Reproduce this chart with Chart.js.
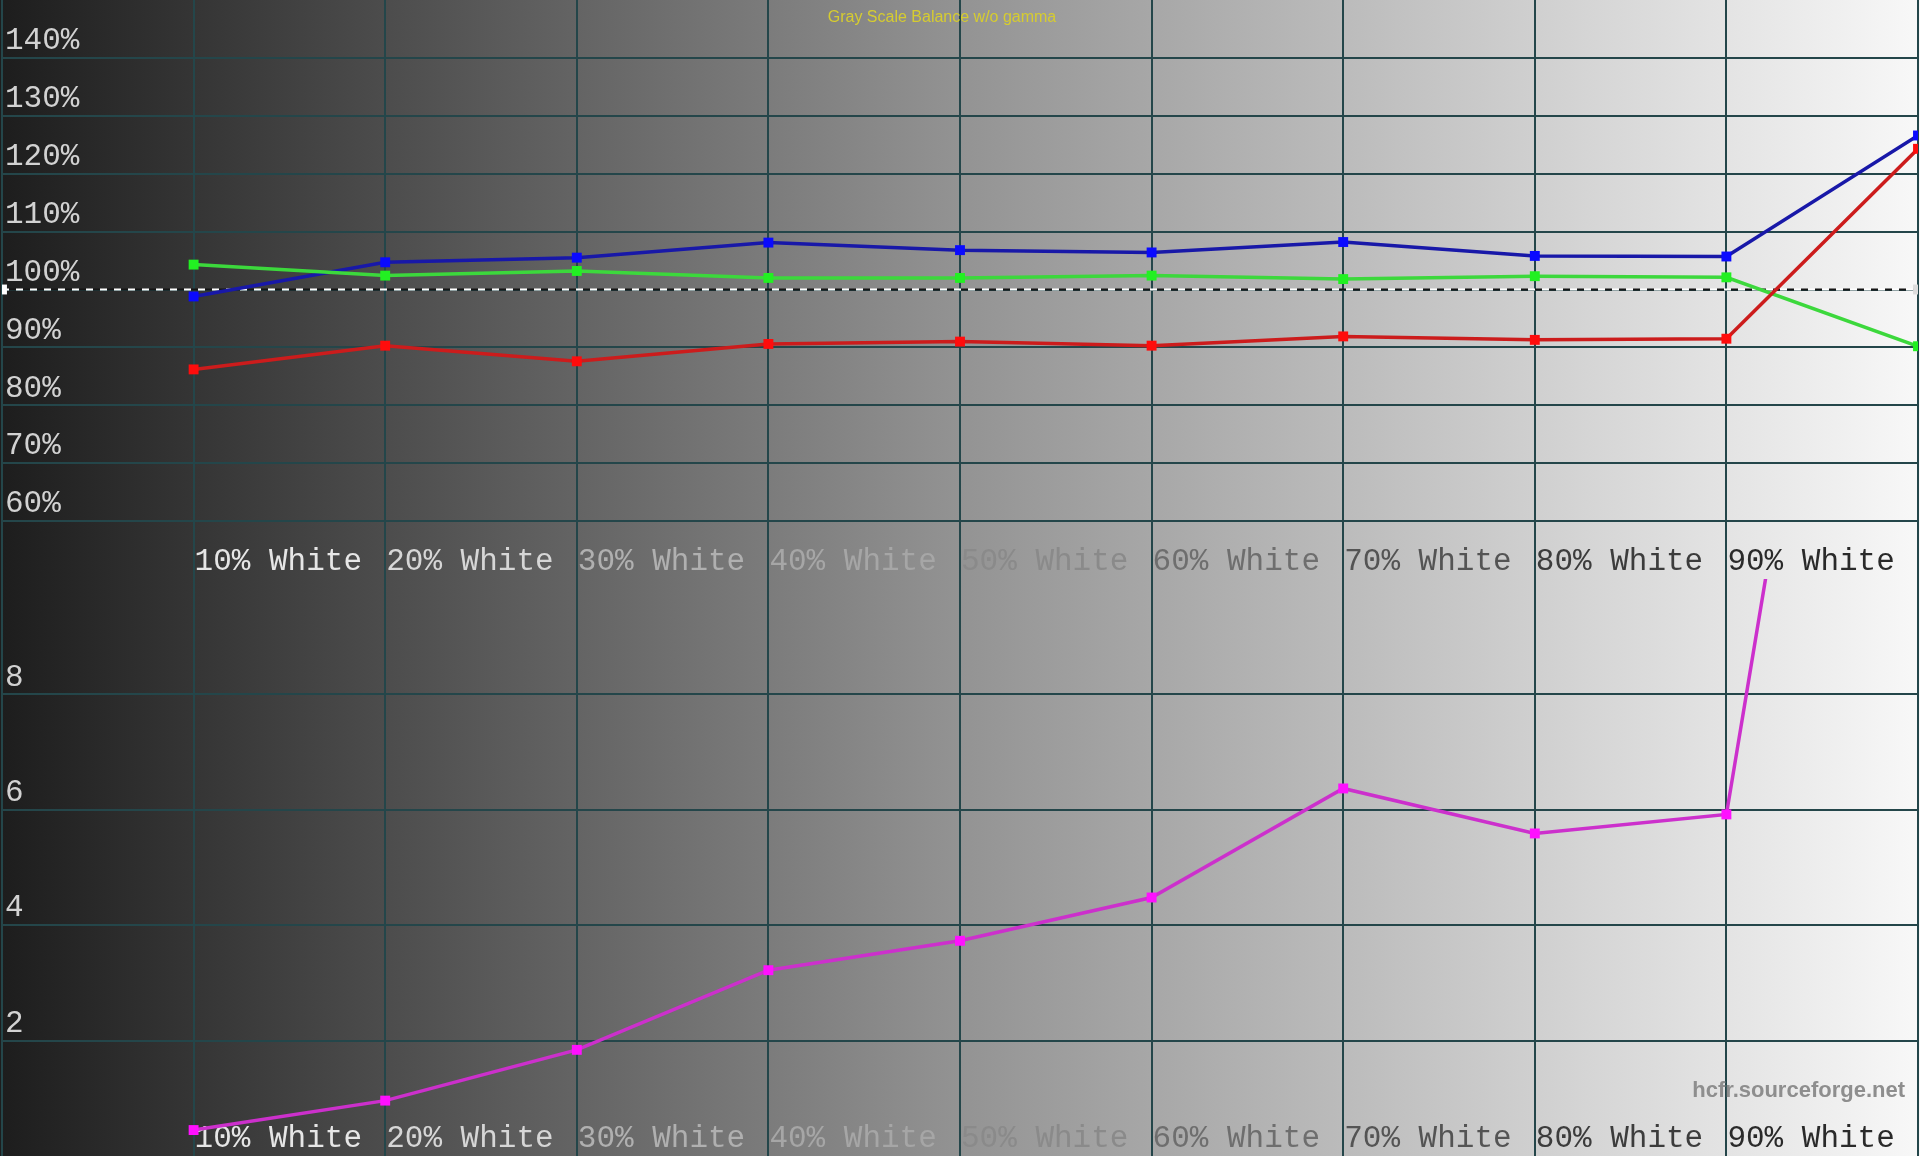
<!DOCTYPE html>
<html>
<head>
<meta charset="utf-8">
<title>Gray Scale Balance w/o gamma</title>
<script src="https://cdn.jsdelivr.net/npm/chart.js@4.4.1/dist/chart.umd.min.js"></script>
<style>
  html, body { margin: 0; padding: 0; width: 1920px; height: 1156px; overflow: hidden; }
  body {
    position: relative;
    background: linear-gradient(to right, #1d1d1d 0%, #939393 50%, #f8f8f8 100%);
    font-family: 'Liberation Sans', Arial, sans-serif;
  }
  canvas { position: absolute; left: 0; }
  #rgb { top: 0; }
  #de { top: 579px; }
  #title {
    position: absolute; top: 8px; left: 0; width: 1884px;
    text-align: center; color: #d6cc30; font-size: 16px;
  }
  #credit {
    position: absolute; top: 1077px; right: 15px;
    color: #8e8e8e; font-weight: bold; font-size: 22px;
  }
</style>
</head>
<body>
<canvas id="rgb" width="1920" height="579"></canvas>
<canvas id="de" width="1920" height="577"></canvas>
<div id="title">Gray Scale Balance w/o gamma</div>
<div id="credit">hcfr.sourceforge.net</div>
<script>
// measured grey levels (% white)
const levels = [10, 20, 30, 40, 50, 60, 70, 80, 90, 100];
const xTickLabels = ['10% White', '20% White', '30% White', '40% White', '50% White',
                     '60% White', '70% White', '80% White', '90% White'];
const xTickColors = ['#e6e6e6', '#d6d6d6', '#b0b0b0', '#a6a6a6', '#8a8a8a',
                     '#6e6e6e', '#545454', '#3c3c3c', '#2a2a2a'];

// RGB balance, %
const redBalance   = [86.2, 90.3, 87.6, 90.6, 91.0, 90.3, 91.9, 91.3, 91.5, 124.3];
const greenBalance = [104.3, 102.4, 103.2, 102.0, 102.0, 102.4, 101.8, 102.3, 102.1, 90.2];
const blueBalance  = [98.8, 104.7, 105.5, 108.1, 106.8, 106.4, 108.2, 105.8, 105.7, 126.6];
const reference = 100;

// delta E
const deltaE = [0.45, 0.96, 1.84, 3.22, 3.73, 4.48, 6.37, 5.59, 5.92, 25.9];

const rgbTickValues = [60, 70, 80, 90, 100, 110, 120, 130, 140];
const rgbTickLabels = ['60%', '70%', '80%', '90%', '100%', '110%', '120%', '130%', '140%'];
const deTickValues = [2, 4, 6, 8];
const deTickLabels = ['2', '4', '6', '8'];

const GRID = '#24464a';
const MONO = "'Courier New', 'Liberation Mono', monospace";

function xScale() {
  return {
    type: 'linear', min: 0, max: 100,
    border: { display: false },
    grid: { color: GRID, lineWidth: 2, drawTicks: false },
    ticks: {
      stepSize: 10, autoSkip: false, maxRotation: 0, minRotation: 0,
      mirror: true, align: 'start', labelOffset: 1, padding: 2,
      font: { family: MONO, size: 31, lineHeight: 1 },
      color: c => xTickColors[levels.indexOf(Math.round(c.tick.value))] || 'transparent',
      callback: v => xTickLabels[levels.indexOf(Math.round(v))] || ''
    },
    afterFit: s => { s.height = 0; s.paddingLeft = 0; s.paddingRight = 0; }
  };
}

function yScale(min, max, step, values, labels) {
  return {
    type: 'linear', min: min, max: max,
    border: { display: false },
    grid: { color: GRID, lineWidth: 2, drawTicks: false },
    ticks: {
      stepSize: step, autoSkip: false, mirror: true, padding: 3, labelOffset: -17,
      color: '#d2d2d2',
      font: { family: MONO, size: 31, lineHeight: 1 },
      callback: v => {
        const i = values.indexOf(Math.round(v));
        return i < 0 ? null : labels[i];
      }
    },
    afterFit: s => { s.width = 0; s.paddingTop = 0; s.paddingBottom = 0; }
  };
}

function series(values, line, marker) {
  return {
    data: levels.map((x, i) => ({ x: x, y: values[i] })),
    borderColor: line, borderWidth: 3.5, tension: 0,
    pointStyle: 'rect', pointRadius: 7, pointBorderWidth: 0,
    pointBackgroundColor: marker
  };
}

const common = {
  responsive: false, animation: false, devicePixelRatio: 1,
  layout: { autoPadding: false, padding: { left: 2, right: 2, top: 0, bottom: 0 } },
  plugins: { legend: { display: false }, tooltip: { enabled: false }, title: { display: false } },
  events: []
};

new Chart(document.getElementById('rgb'), {
  type: 'line',
  data: {
    datasets: [
      series(redBalance, '#cc1c1c', '#ff0c0c'),
      series(greenBalance, '#3cd83c', '#22f022'),
      series(blueBalance, '#1818a8', '#0a0aff'),
      {
        data: [{ x: 0, y: reference }, { x: 100, y: reference }],
        borderColor: '#ffffff', borderWidth: 2, borderDash: [7, 7],
        pointStyle: 'rect', pointRadius: 7, pointBorderWidth: 0,
        pointBackgroundColor: ['#ffffff', '#dcdcdc'], order: 1
      },
      {
        data: [{ x: 0, y: reference }, { x: 100, y: reference }],
        borderColor: '#151515', borderWidth: 2, borderDash: [7, 7], borderDashOffset: 7,
        pointRadius: 0, order: 1
      }
    ]
  },
  options: Object.assign({}, common, {
    scales: {
      x: xScale(),
      y: yScale(50, 150, 10, rgbTickValues, rgbTickLabels)
    }
  })
});

new Chart(document.getElementById('de'), {
  type: 'line',
  data: {
    datasets: [series(deltaE, '#cc30cc', '#ff10ff')]
  },
  options: Object.assign({}, common, {
    scales: {
      x: xScale(),
      y: yScale(0, 10, 2, deTickValues, deTickLabels)
    }
  })
});
</script>
</body>
</html>
